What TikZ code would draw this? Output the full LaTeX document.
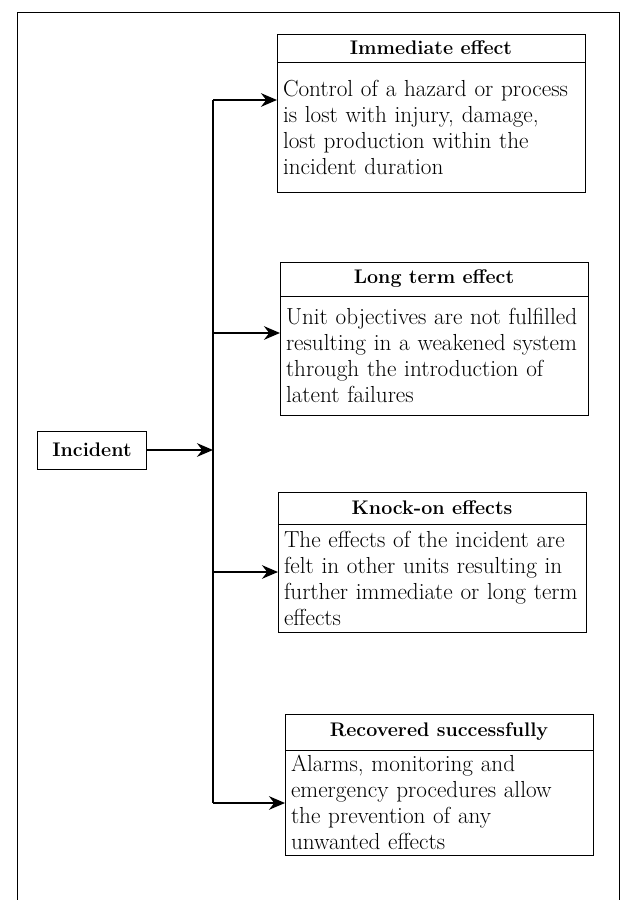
\documentclass[tikz,border=0pt]{standalone}
\usetikzlibrary{positioning,arrows.meta}
\begin{document}
\begin{tikzpicture}[x=0.25mm, y=-0.25mm,
    effhead/.style={draw, line width=0.6pt, minimum width=77mm, minimum height=7mm,
        inner sep=0pt, outer sep=0pt, anchor=north west,
        font=\fontsize{14}{16}\selectfont\bfseries},
    effbody/.style={draw, line width=0.6pt, text width=74mm, inner xsep=1.5mm,
        inner ysep=1mm, outer sep=0pt, align=left,
        font=\fontsize{16.5}{18.5}\selectfont},
    link/.style={line width=1.2pt, -{Stealth[length=4mm, width=3.4mm]}}]
    \useasboundingbox (0,0) rectangle (627,900);

    % Page frame (open at the bottom)
    \draw[line width=0.5pt] (17,900) -- (17,12) -- (619,12) -- (619,900);

    % Incident
    \node[draw, line width=0.6pt, minimum width=27.25mm, minimum height=9.5mm,
        font=\fontsize{14}{16}\selectfont\bfseries] (incident) at (92,450) {Incident};

    % Immediate effect
    \node[effhead] (head1) at (277,34) {Immediate effect};
    \node[effbody, minimum height=32.5mm, below=0pt of head1] (body1)
        {Control of a hazard or process\\is lost with injury, damage,\\lost production within the\\incident duration};

    % Long term effect
    \node[effhead, minimum height=8.5mm] (head2) at (280,262) {Long term effect};
    \node[effbody, minimum height=29.75mm, below=0pt of head2] (body2)
        {Unit objectives are not fulfilled\\resulting in a weakened system\\through the introduction of\\latent failures};

    % Knock-on effects
    \node[effhead, minimum height=8mm] (head3) at (278,492) {Knock-on effects};
    \node[effbody, minimum height=27mm, below=0pt of head3] (body3)
        {The effects of the incident are\\felt in other units resulting in\\further immediate or long term\\effects};

    % Recovered successfully
    \node[effhead, minimum height=9mm] (head4) at (285,714) {Recovered successfully};
    \node[effbody, minimum height=26.25mm, below=0pt of head4] (body4)
        {Alarms, monitoring and\\emergency procedures allow\\the prevention of any\\unwanted effects};

    % Trunk and branches
    \coordinate (t1) at (213,100);
    \coordinate (t2) at (213,333);
    \coordinate (tm) at (213,450);
    \coordinate (t3) at (213,572);
    \coordinate (t4) at (213,803);
    \draw[line width=1.2pt] (t1) -- (t4);
    \draw[link] (incident) -- (tm);
    \draw[link] (t1) -- (t1 -| body1.west);
    \draw[link] (t2) -- (t2 -| body2.west);
    \draw[link] (t3) -- (t3 -| body3.west);
    \draw[link] (t4) -- (t4 -| body4.west);
\end{tikzpicture}
\end{document}
